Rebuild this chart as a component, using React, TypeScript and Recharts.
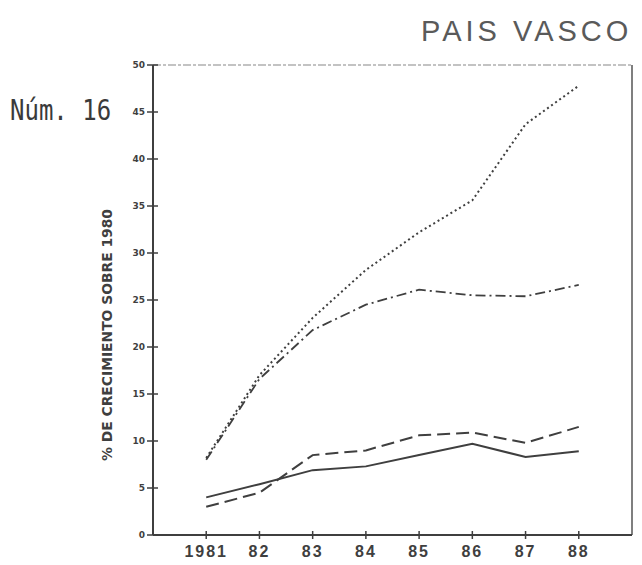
import React from "react";
import { LineChart, Line, XAxis, YAxis, ReferenceLine } from "recharts";

const years = [1981, 1982, 1983, 1984, 1985, 1986, 1987, 1988];
const yearLabels = ["1981", "82", "83", "84", "85", "86", "87", "88"];
const yTicks = [0, 5, 10, 15, 20, 25, 30, 35, 40, 45, 50];
const dottedSeries = [8.2, 17.0, 23.1, 28.2, 32.2, 35.6, 43.7, 47.8];
const dashDotSeries = [8.0, 16.6, 21.8, 24.5, 26.1, 25.5, 25.4, 26.6];
const dashedSeries = [3.0, 4.5, 8.5, 9.0, 10.6, 10.9, 9.8, 11.5];
const solidSeries = [4.0, 5.4, 6.9, 7.3, 8.5, 9.7, 8.3, 8.9];

const data = years.map((y, i) => ({
  year: y,
  dotted: dottedSeries[i],
  dashDot: dashDotSeries[i],
  dashed: dashedSeries[i],
  solid: solidSeries[i],
}));

const INK = "#3f3f3f";

const XTick = (props: any) => {
  const { x, y, payload } = props;
  const idx = years.indexOf(payload.value);
  return (
    <g>
      <line x1={x} x2={x} y1={y - 4} y2={y + 4} stroke={INK} strokeWidth={1.5} />
      <text
        x={x}
        y={y + 22}
        textAnchor="middle"
        fill={INK}
        fontFamily="Liberation Sans, Arial, sans-serif"
        fontSize={16}
        fontWeight={600}
        letterSpacing={2}
      >
        {idx >= 0 ? yearLabels[idx] : payload.value}
      </text>
    </g>
  );
};

const YTick = (props: any) => {
  const { x, y, payload } = props;
  return (
    <g>
      <line x1={x - 6} x2={x + 5} y1={y} y2={y} stroke={INK} strokeWidth={1.5} />
      <text
        x={x - 8}
        y={y + 3}
        textAnchor="end"
        fill={INK}
        fontFamily="DejaVu Sans, sans-serif"
        fontWeight="bold"
        fontSize={9}
      >
        {payload.value}
      </text>
    </g>
  );
};

export default function App() {
  return (
    <div
      style={{
        position: "absolute",
        left: 0,
        top: 0,
        width: 642,
        height: 565,
        background: "#ffffff",
        overflow: "hidden",
      }}
    >
      <div
        style={{
          position: "absolute",
          left: 421,
          top: 15,
          fontFamily: "Liberation Sans, Arial, sans-serif",
          fontSize: 29,
          letterSpacing: 4,
          color: "#5a5a5a",
          whiteSpace: "nowrap",
          lineHeight: "32px",
        }}
      >
        PAIS VASCO
      </div>
      <div
        style={{
          position: "absolute",
          left: 10,
          top: 95,
          fontFamily: "DejaVu Sans Mono, Liberation Mono, monospace",
          fontSize: 24,
          color: "#3a3a3a",
          whiteSpace: "nowrap",
          lineHeight: "28px",
          transform: "scale(1, 1.15)",
          transformOrigin: "left top",
        }}
      >
        Núm. 16
      </div>
      <svg
        width={40}
        height={300}
        style={{ position: "absolute", left: 88, top: 190 }}
      >
        <text
          x={0}
          y={0}
          transform="translate(20,145) rotate(-90)"
          textAnchor="middle"
          dominantBaseline="middle"
          fill={INK}
          fontFamily="DejaVu Sans Condensed, DejaVu Sans, sans-serif"
          fontWeight="bold"
          fontSize={14}
          textLength={252}
          lengthAdjust="spacingAndGlyphs"
        >
          % DE CRECIMIENTO SOBRE 1980
        </text>
      </svg>
      <div style={{ position: "absolute", left: 0, top: 0 }}>
        <LineChart
          width={642}
          height={565}
          data={data}
          margin={{ top: 65, right: 10, bottom: 0, left: 0 }}
        >
          <XAxis
            dataKey="year"
            type="number"
            domain={[1980, 1989]}
            ticks={years}
            allowDataOverflow
            height={30}
            tickSize={0}
            tickMargin={0}
            tickLine={false}
            tick={<XTick />}
            axisLine={{ stroke: INK, strokeWidth: 2 }}
          />
          <YAxis
            type="number"
            domain={[0, 50]}
            ticks={yTicks}
            width={153}
            tickSize={0}
            tickMargin={0}
            tickLine={false}
            tick={<YTick />}
            axisLine={{ stroke: INK, strokeWidth: 2 }}
          />
          <ReferenceLine y={50} stroke="#888" strokeWidth={1.2} strokeDasharray="8 2 3 2" />
          <ReferenceLine x={1989} stroke="#555" strokeWidth={1.5} />
          <Line
            dataKey="dotted"
            stroke={INK}
            strokeWidth={2}
            strokeDasharray="2 3"
            dot={false}
            isAnimationActive={false}
          />
          <Line
            dataKey="dashDot"
            stroke={INK}
            strokeWidth={1.8}
            strokeDasharray="10 4 2 4"
            dot={false}
            isAnimationActive={false}
          />
          <Line
            dataKey="dashed"
            stroke={INK}
            strokeWidth={2}
            strokeDasharray="13 6"
            dot={false}
            isAnimationActive={false}
          />
          <Line
            dataKey="solid"
            stroke={INK}
            strokeWidth={2}
            dot={false}
            isAnimationActive={false}
          />
        </LineChart>
      </div>
    </div>
  );
}
